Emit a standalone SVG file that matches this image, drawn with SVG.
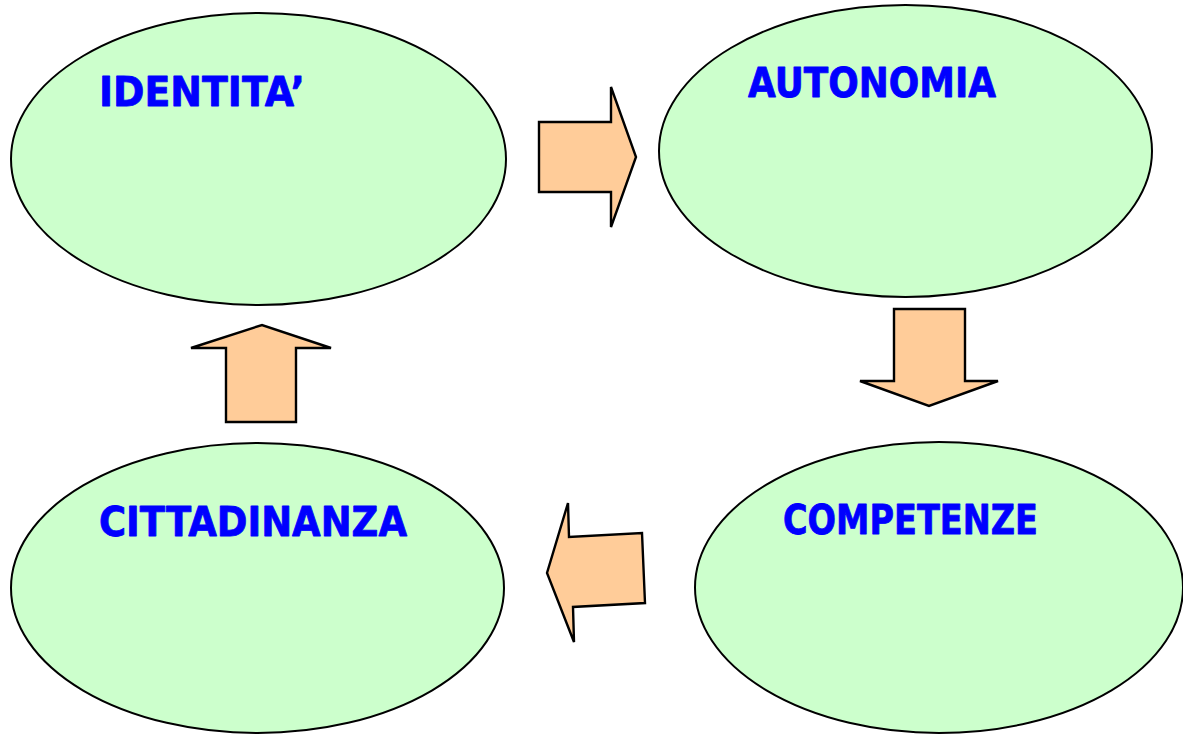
<svg xmlns="http://www.w3.org/2000/svg" width="1183" height="734" viewBox="0 0 1183 734">
<style>
.node ellipse{fill:#CCFFCC;stroke:#000;stroke-width:2}
.node text{font-family:"DejaVu Sans","Liberation Sans",sans-serif;font-weight:bold;font-size:40px;fill:#0000FF;stroke:#0000FF;stroke-width:0.8;stroke-linejoin:round}
.arrow{fill:#FFCC99;stroke:#000;stroke-width:2.4;stroke-linejoin:miter}
</style>
<rect width="1183" height="734" fill="#fff"/>
<g id="node-identita" class="node">
<ellipse cx="258.5" cy="159" rx="247.5" ry="146"/>
<text x="99" y="106" textLength="206" lengthAdjust="spacingAndGlyphs">IDENTITA’</text>
</g>
<g id="node-autonomia" class="node">
<ellipse cx="905.5" cy="151" rx="246.5" ry="146"/>
<text x="748" y="97" textLength="248" lengthAdjust="spacingAndGlyphs">AUTONOMIA</text>
</g>
<g id="node-competenze" class="node">
<ellipse cx="939" cy="587.5" rx="244" ry="145.5"/>
<text x="783" y="534" textLength="255" lengthAdjust="spacingAndGlyphs">COMPETENZE</text>
</g>
<g id="node-cittadinanza" class="node">
<ellipse cx="257.5" cy="588" rx="246.5" ry="145"/>
<text x="99" y="536" textLength="308" lengthAdjust="spacingAndGlyphs">CITTADINANZA</text>
</g>
<g id="connectors">
<polygon class="arrow" points="539,122 611,122 611,87 636,157 611,227 611,192 539,192"/>
<polygon class="arrow" points="894,309 965,309 965,381 998,381 929,406 860,381 894,381"/>
<polygon class="arrow" points="642,533 645,603 573,607 574,642 547,573 568,503 569,537"/>
<polygon class="arrow" points="226,422 226,348 191,348 262,325 331,348 296,348 296,422"/>
</g>
</svg>
